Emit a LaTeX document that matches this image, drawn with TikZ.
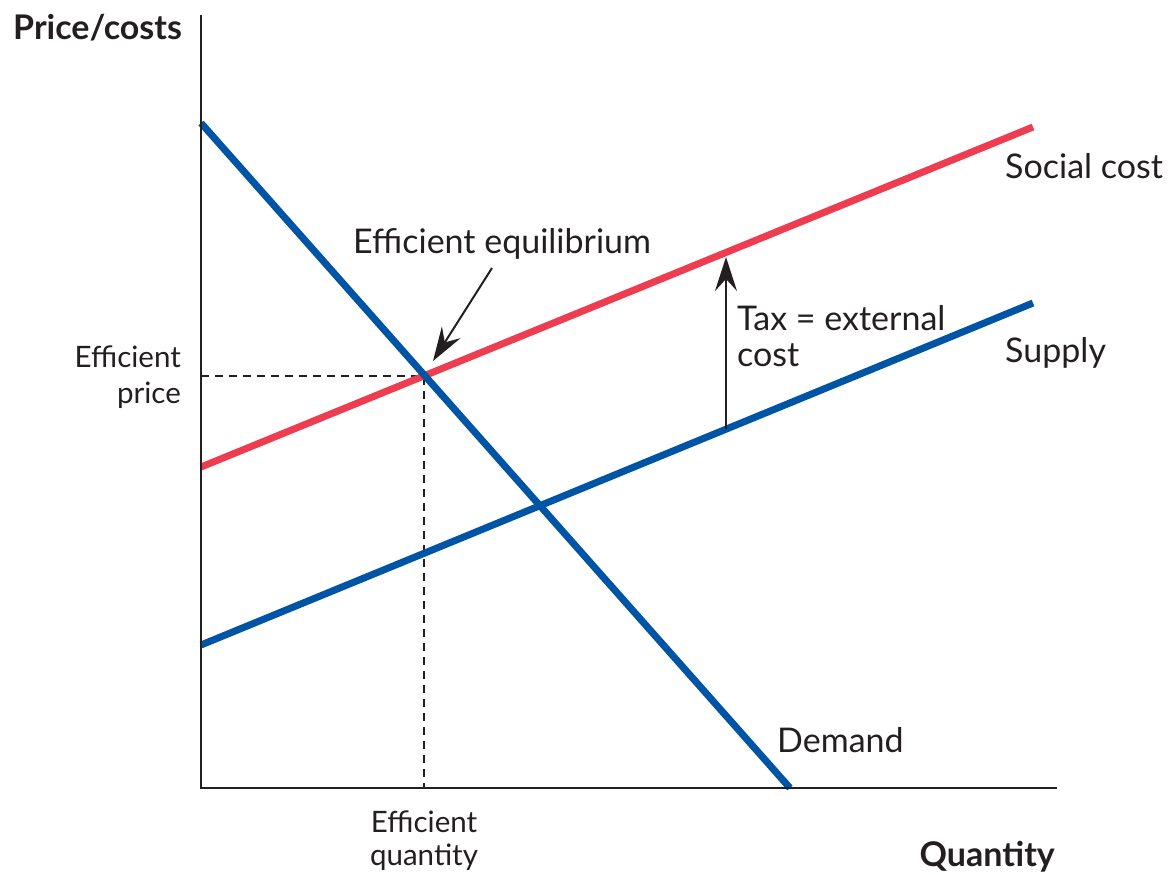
\documentclass[tikz,border=0pt]{standalone}
\usepackage{fontspec}
\setmainfont{Lato}
\usetikzlibrary{arrows.meta}
\definecolor{cblue}{RGB}{0,84,166}
\definecolor{cred}{RGB}{238,60,80}
\definecolor{ctext}{RGB}{35,31,32}
\begin{document}
\begin{tikzpicture}[x=1pt,y=-1pt,
  axisline/.style={ctext,line width=2pt},
  curveblue/.style={cblue,line width=7pt},
  curvered/.style={cred,line width=7pt},
  guide/.style={ctext,line width=1.6pt,dash pattern=on 8pt off 6pt},
  pointer/.style={ctext,line width=2pt,-{Stealth[length=34pt,width=22pt,inset=12pt]}},
  lbl/.style={inner sep=0pt,text=ctext,font=\fontsize{34}{40}\selectfont},
  smalllbl/.style={inner sep=0pt,text=ctext,font=\fontsize{29.5}{34}\selectfont},
  axlbl/.style={inner sep=0pt,text=ctext,font=\fontsize{34}{40}\selectfont\bfseries}]
\useasboundingbox (0,0) rectangle (1168,875);
% coordinates
\coordinate (O) at (201,788);
\coordinate (ytop) at (201,15);
\coordinate (xend) at (1057,788);
\coordinate (d1) at (201,123);
\coordinate (d2) at (790,788);
\coordinate (s1) at (201,645);
\coordinate (s2) at (1033,303);
\coordinate (c1) at (201,467);
\coordinate (c2) at (1033,127);
\coordinate (eq) at (424,376);
\coordinate (eqy) at (201,376);
\coordinate (eqx) at (424,788);
\coordinate (taxlo) at (726,429);
\coordinate (taxhi) at (726,257);
\coordinate (eqarrowstart) at (492,268);
\coordinate (eqarrowtip) at (433,361);
% guides
\draw[guide] (eqy) -- (eq) -- (eqx);
% curves
\draw[curvered] (c1) -- (c2);
\draw[curveblue] (s1) -- (s2);
\draw[curveblue] (d1) -- (d2);
% axes
\draw[axisline] (ytop) -- (O) -- (xend);
% arrows
\draw[pointer] (taxlo) -- (taxhi);
\draw[pointer] (eqarrowstart) -- (eqarrowtip);
% labels
\node[axlbl,anchor=base west] (ylab) at (13,40) {Price/costs};
\node[axlbl,anchor=base east] (xlab) at (1055,866) {Quantity};
\node[lbl,anchor=base west] (sc) at (1005,178) {Social cost};
\node[lbl,anchor=base west] (sup) at (1005,362) {Supply};
\node[lbl,anchor=base west] (dem) at (777,752) {Demand};
\node[lbl,anchor=base west] (eqlab) at (353,253) {Efficient equilibrium};
\node[lbl,anchor=base west] (tax1) at (737,330) {Tax = external};
\node[lbl,anchor=base west] (tax2) at (737,366) {cost};
\node[smalllbl,anchor=base east] (ep1) at (181,367) {Efficient};
\node[smalllbl,anchor=base east] (ep2) at (181,403) {price};
\node[smalllbl,anchor=base] (eq1) at (424,832) {Efficient};
\node[smalllbl,anchor=base] (eq2) at (424,865) {quantity};
\end{tikzpicture}
\end{document}
